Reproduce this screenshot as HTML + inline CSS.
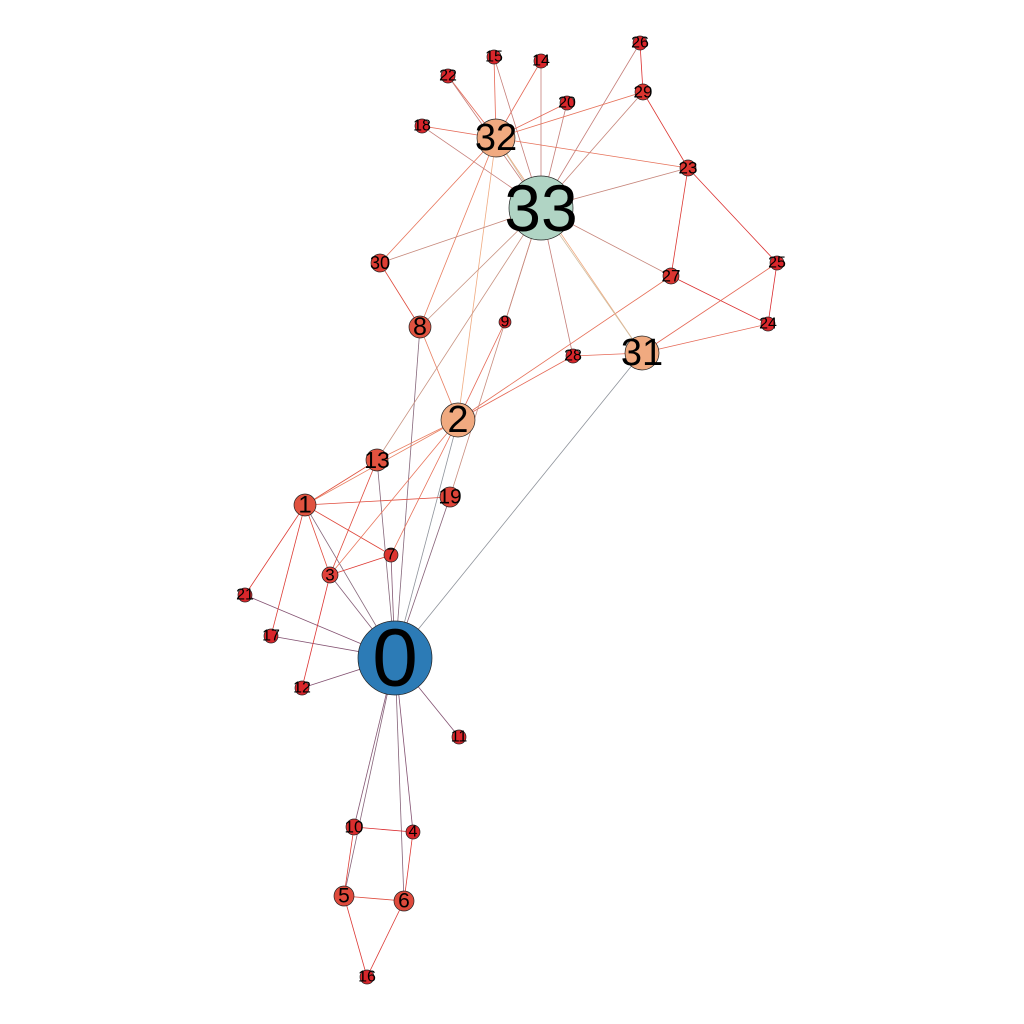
<!DOCTYPE html>
<html><head><meta charset="utf-8"><style>
html,body{margin:0;padding:0;background:#fff;width:1024px;height:1024px;overflow:hidden}
svg text{font-family:"Liberation Sans",sans-serif;text-anchor:middle;dominant-baseline:central;fill:#000}
</style></head><body>
<svg id="g" width="1024" height="1024" viewBox="0 0 1024 1024"></svg>
<script>
const nodeX=[395,305,458,330,413,344,404,391,420,505,354,459,302,377,541,494,367,271,422,450,567,245,448,688,768,777,640,671,573,643,380,642,496,541];
const nodeY=[658,505,420,575,832,896,901,555,327,322,827,737,688,460,61,57,977,636,126,497,103,595,76,168,324,263,43,276,356,92,263,353,138,208];
const nodeR=[37,11,17,8,7,10,10,7,11,6,8,7,7,11,7,7,7,7,7,10,7,7,7,8,7,7,7,8,7,8,9,17,19,32];
const labelSize=[82,24,38,17,16,21,21,16,25,16,17,16,16,23,16,16,16,16,16,21,16,16,16,17,16,16,16,17,16,17,18,38,38,66];
const nodeColor=['#2c7bb6','#e0523f','#f0aa80','#e0413a','#d9262b','#df4a3c','#df4a3c','#dc3530','#e0523f','#d9262b','#db2e2e','#d9262b','#d9262b','#e0523f','#d9262b','#d9262b','#d9262b','#d9262b','#d9262b','#df4438','#d9262b','#d9262b','#d9262b','#dc3530','#d9262b','#d9262b','#d9262b','#dc3530','#d9262b','#dc3530','#de3d34','#f0aa80','#f0aa80','#b0d4c4'];
const edgeSrc=[0,0,0,0,0,0,0,0,0,0,0,0,0,0,0,0,1,1,1,1,1,1,1,2,2,2,2,2,2,2,2,3,3,3,4,4,5,5,5,6,8,8,8,9,13,14,14,15,15,18,18,19,20,20,22,22,23,23,23,23,23,24,24,24,25,26,26,27,28,28,29,29,30,30,31,31,32];
const edgeDst=[1,2,3,4,5,6,7,8,10,11,12,13,17,19,21,31,2,3,7,13,17,19,21,3,7,8,9,13,27,28,32,7,12,13,6,10,6,10,16,16,30,32,33,33,33,32,33,32,33,32,33,33,32,33,32,33,25,27,29,32,33,25,27,31,31,29,33,33,31,33,32,33,32,33,32,33,33];
const svg=document.getElementById('g');
const NS='http://www.w3.org/2000/svg';
function hx(c){return [1,3,5].map(i=>parseInt(c.substr(i,2),16));}
function mix(a,b){const A=hx(a),B=hx(b);return 'rgb('+A.map((v,i)=>Math.round((v+B[i])/2)).join(',')+')';}
for(let i=0;i<edgeSrc.length;i++){
  const a=edgeSrc[i],b=edgeDst[i];
  const l=document.createElementNS(NS,'line');
  
  
  l.setAttribute('x1',nodeX[a]);l.setAttribute('y1',nodeY[a]);
  l.setAttribute('x2',nodeX[b]);l.setAttribute('y2',nodeY[b]);
  l.setAttribute('stroke',mix(nodeColor[a],nodeColor[b]));
  l.setAttribute('stroke-width','0.8');
  svg.appendChild(l);
}
for(let i=0;i<nodeX.length;i++){
  const c=document.createElementNS(NS,'circle');
  
  
  c.setAttribute('cx',nodeX[i]);c.setAttribute('cy',nodeY[i]);c.setAttribute('r',nodeR[i]);
  c.setAttribute('fill',nodeColor[i]);c.setAttribute('stroke','#222');c.setAttribute('stroke-width','0.7');
  svg.appendChild(c);
}
for(let i=0;i<nodeX.length;i++){
  const t=document.createElementNS(NS,'text');
  
  
  t.setAttribute('x',nodeX[i]);t.setAttribute('y',nodeY[i]);
  t.setAttribute('font-size',labelSize[i]);
  t.textContent=String(i);
  svg.appendChild(t);
}
</script>
</body></html>
